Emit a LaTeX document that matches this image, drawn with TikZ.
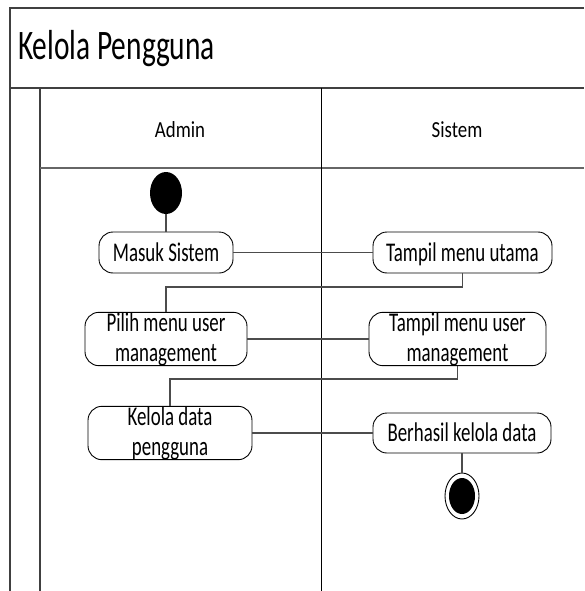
\documentclass[tikz,border=0pt]{standalone}
\usepackage{fontspec}
\setmainfont{Carlito}[FakeStretch=0.7]
\newfontfamily\kepala{Carlito}[FakeStretch=0.82]
\usetikzlibrary{shapes.geometric}

\begin{document}
\begin{tikzpicture}[x=1pt,y=-1pt,
  act/.style={draw,rounded corners=14pt,inner sep=0pt,align=center,font=\fontsize{27}{30}\selectfont,line width=0.9pt},
  oneline/.style={text height=19pt,text depth=2pt},
  lane/.style={line width=1.6pt,black!75},
  flow/.style={draw=black!70,line width=1.4pt}]
\useasboundingbox (0,0) rectangle (584,591);
% frame and lanes
\draw[lane] (584,8)--(10,8)--(10,591);
\draw[lane] (10,88)--(584,88);
\draw[lane] (40,88)--(40,591);
\draw[lane,black!60] (40,168)--(584,168);
\draw[line width=0.9pt] (321,88)--(321,591);
\node[anchor=base west,inner sep=0,font=\fontsize{42}{46}\selectfont] (judul) at (18,60) {Kelola Pengguna};
\node[anchor=base,font=\kepala\fontsize{23}{26}\selectfont] (admin) at (180,137) {Admin};
\node[anchor=base,font=\kepala\fontsize{23}{26}\selectfont] (sistem) at (457,137) {Sistem};
% activities
\node[ellipse,fill,minimum width=32,minimum height=42,inner sep=0] (mulai) at (166,193) {};
\node[act,oneline,minimum width=134,minimum height=41] (masuk) at (166,252.5) {Masuk Sistem};
\node[act,oneline,minimum width=179,minimum height=41] (utama) at (462.5,252.5) {Tampil menu utama};
\node[act,minimum width=162,minimum height=52] (pilih) at (166,339) {Pilih menu user\\management};
\node[act,minimum width=177,minimum height=52] (utama2) at (457.5,339) {Tampil menu user\\management};
\node[act,minimum width=164,minimum height=52] (kelola) at (170,433) {Kelola data\\pengguna};
\node[act,oneline,minimum width=178,minimum height=40] (berhasil) at (462,433) {Berhasil kelola data};
\node[ellipse,draw,line width=0.9pt,minimum width=34,minimum height=46,inner sep=0] (selesai) at (462,496) {};
\fill (selesai.center) ellipse (13 and 18);
% flows
\coordinate (b1) at (166,287); \coordinate (b2) at (170,379);
\draw[flow] (mulai) -- (masuk);
\draw[flow] (masuk) -- (utama);
\draw[flow] (utama.south) |- (b1) -- (pilih.north);
\draw[flow] (pilih) -- (utama2);
\draw[flow] (utama2.south) |- (b2) -- (kelola.north);
\draw[flow] (kelola) -- (berhasil);
\draw[flow] (berhasil) -- (selesai);
\end{tikzpicture}
\end{document}
